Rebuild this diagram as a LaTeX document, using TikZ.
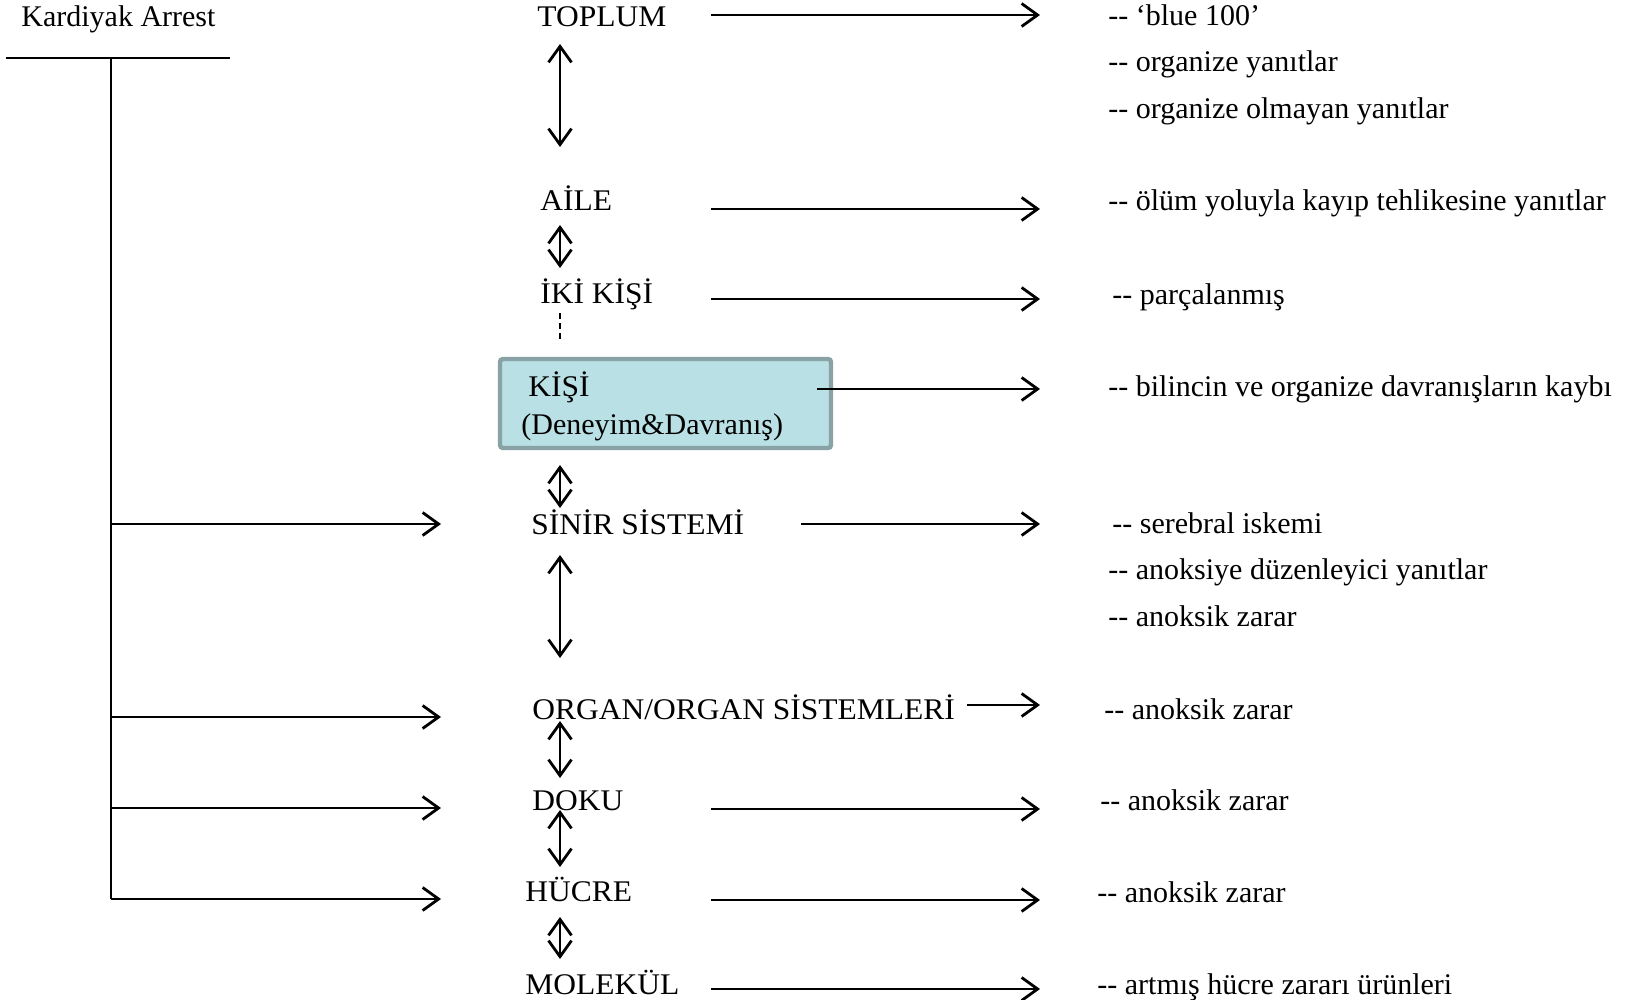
\documentclass[tikz,border=0pt]{standalone}
\usepackage{fontspec}
\setmainfont{Liberation Serif}
\newfontfamily\widecaps[FakeStretch=1.05]{Liberation Serif}
\usetikzlibrary{arrows.meta}
\definecolor{boxfill}{RGB}{185,224,228}
\definecolor{boxline}{RGB}{136,162,165}
\begin{document}
\begin{tikzpicture}[x=0.5pt,y=-0.5pt,
  lbl/.style={anchor=base west,inner sep=0pt,font=\fontsize{15}{18}\selectfont},
  clbl/.style={anchor=base west,inner sep=0pt,font=\widecaps\fontsize{15}{18}\selectfont},
  conn/.style={line width=1.4pt},
  tip/.tip={Straight Barb[length=8pt,width=11.5pt,line width=1.4pt]},
  arr/.style={conn,-tip},
  darr/.style={conn,tip-tip}]
\useasboundingbox (0,0) rectangle (1627,1000);

% highlighted box
\node[draw=boxline,fill=boxfill,line width=2.2pt,rounded corners=1.5pt,
      minimum width=165.5pt,minimum height=44.5pt,inner sep=0pt] (kisibox) at (665.5,403.5) {};

% left label and tree
\node[lbl] (kard) at (21,27) {Kardiyak Arrest};
\coordinate (hl) at (6,58);
\coordinate (hr) at (230,58);
\coordinate (vt) at (111,58);
\coordinate (vb) at (111,899);
\coordinate (b1) at (111,524);
\coordinate (b2) at (111,717);
\coordinate (b3) at (111,808);
\coordinate (b4) at (111,899);
\coordinate (b1e) at (441,524);
\coordinate (b2e) at (441,717);
\coordinate (b3e) at (441,808);
\coordinate (b4e) at (441,899);
\draw[conn] (hl) -- (hr);
\draw[conn] (vt) -- (vb);
\draw[arr] (b1) -- (b1e);
\draw[arr] (b2) -- (b2e);
\draw[arr] (b3) -- (b3e);
\draw[arr] (b4) -- (b4e);

% central column
\node[clbl] (toplum) at (537,27) {TOPLUM};
\node[clbl] (aile) at (540,211) {AİLE};
\node[clbl] (iki) at (540,303) {İKİ KİŞİ};
\node[clbl] (kisi) at (528,396) {KİŞİ};
\node[lbl] (deneyim) at (521,434) {(Deneyim\&Davranış)};
\node[clbl] (sinir) at (531,534) {SİNİR SİSTEMİ};
\node[clbl] (organ) at (532,719) {ORGAN/ORGAN SİSTEMLERİ};
\node[clbl] (doku) at (532,810) {DOKU};
\node[clbl] (hucre) at (525,901) {HÜCRE};
\node[clbl] (molekul) at (525,994) {MOLEKÜL};

% vertical connectors
\coordinate (v1a) at (560,44);  \coordinate (v1b) at (560,147);
\coordinate (v2a) at (560,225); \coordinate (v2b) at (560,268);
\coordinate (v3a) at (560,313); \coordinate (v3b) at (560,342);
\coordinate (v4a) at (560,465); \coordinate (v4b) at (560,508);
\coordinate (v5a) at (560,555); \coordinate (v5b) at (560,658);
\coordinate (v6a) at (560,721); \coordinate (v6b) at (560,778);
\coordinate (v7a) at (560,810); \coordinate (v7b) at (560,867);
\coordinate (v8a) at (560,917); \coordinate (v8b) at (560,959);
\draw[darr] (v1a) -- (v1b);
\draw[darr] (v2a) -- (v2b);
\draw[conn,dashed,dash pattern=on 3pt off 2pt] (v3a) -- (v3b);
\draw[darr] (v4a) -- (v4b);
\draw[darr] (v5a) -- (v5b);
\draw[darr] (v6a) -- (v6b);
\draw[darr] (v7a) -- (v7b);
\draw[darr] (v8a) -- (v8b);

% right arrows
\coordinate (a1s) at (711,15);  \coordinate (a1e) at (1040,15);
\coordinate (a2s) at (711,209); \coordinate (a2e) at (1040,209);
\coordinate (a3s) at (711,299); \coordinate (a3e) at (1040,299);
\coordinate (a4s) at (817,389); \coordinate (a4e) at (1040,389);
\coordinate (a5s) at (801,524); \coordinate (a5e) at (1040,524);
\coordinate (a6s) at (967,705); \coordinate (a6e) at (1040,705);
\coordinate (a7s) at (711,809); \coordinate (a7e) at (1040,809);
\coordinate (a8s) at (711,900); \coordinate (a8e) at (1040,900);
\coordinate (a9s) at (711,989); \coordinate (a9e) at (1040,989);
\draw[arr] (a1s) -- (a1e);
\draw[arr] (a2s) -- (a2e);
\draw[arr] (a3s) -- (a3e);
\draw[arr] (a4s) -- (a4e);
\draw[arr] (a5s) -- (a5e);
\draw[arr] (a6s) -- (a6e);
\draw[arr] (a7s) -- (a7e);
\draw[arr] (a8s) -- (a8e);
\draw[arr] (a9s) -- (a9e);

% right texts
\node[lbl] (r1) at (1108,26) {-{}- ‘blue 100’};
\node[lbl] (r2) at (1108,72) {-{}- organize yanıtlar};
\node[lbl] (r3) at (1108,119) {-{}- organize olmayan yanıtlar};
\node[lbl] (r4) at (1108,211) {-{}- ölüm yoluyla kayıp tehlikesine yanıtlar};
\node[lbl] (r5) at (1112,304) {-{}- parçalanmış};
\node[lbl] (r6) at (1108,396) {-{}- bilincin ve organize davranışların kaybı};
\node[lbl] (r7) at (1112,533) {-{}- serebral iskemi};
\node[lbl] (r8) at (1108,579) {-{}- anoksiye düzenleyici yanıtlar};
\node[lbl] (r9) at (1108,626) {-{}- anoksik zarar};
\node[lbl] (r10) at (1104,719) {-{}- anoksik zarar};
\node[lbl] (r11) at (1100,810) {-{}- anoksik zarar};
\node[lbl] (r12) at (1097,902) {-{}- anoksik zarar};
\node[lbl] (r13) at (1097,994) {-{}- artmış hücre zararı ürünleri};
\end{tikzpicture}
\end{document}
